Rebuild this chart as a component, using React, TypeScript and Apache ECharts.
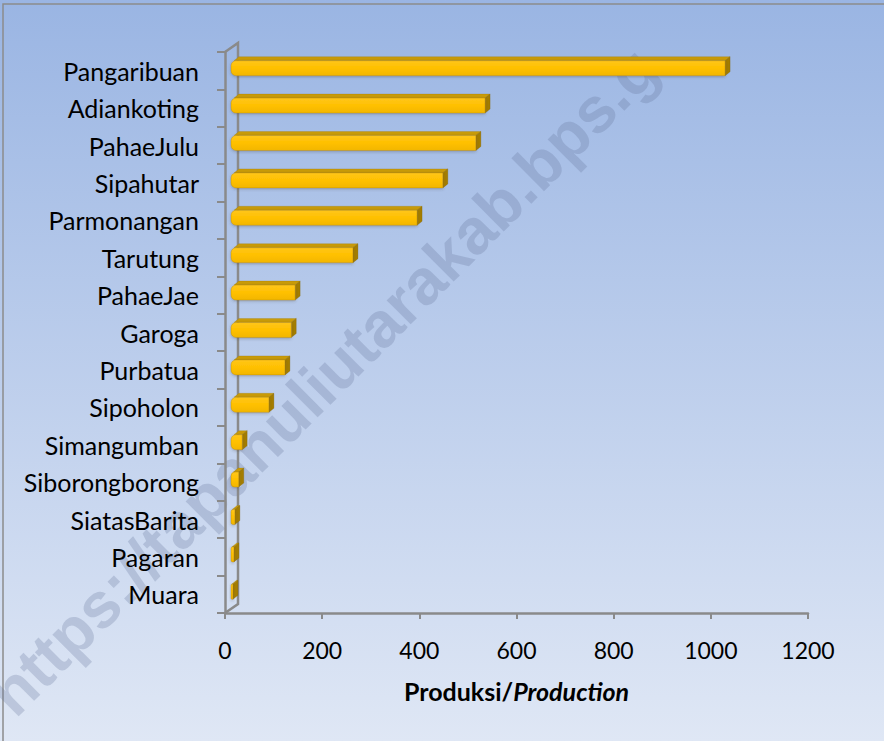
import React, { useEffect, useRef } from "react";
import * as echarts from "echarts";

const categories = [
  "Pangaribuan",
  "Adiankoting",
  "PahaeJulu",
  "Sipahutar",
  "Parmonangan",
  "Tarutung",
  "PahaeJae",
  "Garoga",
  "Purbatua",
  "Sipoholon",
  "Simangumban",
  "Siborongborong",
  "SiatasBarita",
  "Pagaran",
  "Muara",
];
const production = [1017, 523, 504, 436, 383, 251, 132, 124, 111, 78, 23, 16, 8, 6, 4];
const axisNameParts = ["Produksi/", "Production"];
const watermarkText = "https://tapanuliutarakab.bps.g";

const W = 884;
const H = 741;
const GRID_LEFT = 225;
const GRID_TOP = 52;
const GRID_W = 583;
const GRID_H = 561;
const WALL_DX = 13;
const WALL_DY = 9;
const AXIS_GRAY = "#8A8A8A";
const FONT = "Lato, 'Noto Sans', sans-serif";

export default function App() {
  const ref = useRef<HTMLDivElement>(null);

  useEffect(() => {
    if (!ref.current) return;
    const chart = echarts.init(ref.current, null, { renderer: "svg" });

    const renderBar = (params: any, api: any) => {
      const idx = api.value(1);
      const val = api.value(0);
      const p0 = api.coord([0, idx]);
      const p1 = api.coord([val, idx]);
      const x0 = p0[0] + 6;
      const x1 = p1[0] + 6;
      const yc = p0[1];
      const yt = yc - 10;
      const yb = yc + 5;
      const dx = 5;
      const dy = 4;
      const w = Math.max(x1 - x0, 1);
      const r = Math.min(5, w / 2);
      return {
        type: "group",
        children: [
          {
            type: "polygon",
            shape: {
              points: [
                [x0 + r * 0.6, yt],
                [x0 + w, yt],
                [x0 + w + dx, yt - dy],
                [x0 + r * 0.6 + dx, yt - dy],
              ],
            },
            style: { fill: "#C99B08", stroke: "rgba(150,115,0,0.5)", lineWidth: 0.5 },
          },
          {
            type: "polygon",
            shape: {
              points: [
                [x0 + w, yt],
                [x0 + w + dx, yt - dy],
                [x0 + w + dx, yb - dy],
                [x0 + w, yb],
              ],
            },
            style: { fill: "#A47D00", stroke: "rgba(120,90,0,0.5)", lineWidth: 0.5 },
          },
          {
            type: "rect",
            shape: { x: x0, y: yt, width: w, height: yb - yt, r: [r, 0, 0, r] },
            style: {
              fill: new echarts.graphic.LinearGradient(0, 0, 0, 1, [
                { offset: 0, color: "#FFC61A" },
                { offset: 0.5, color: "#FFC000" },
                { offset: 1, color: "#F2B600" },
              ]),
              stroke: "rgba(170,130,0,0.6)",
              lineWidth: 0.6,
              shadowColor: "rgba(60,60,60,0.35)",
              shadowBlur: 3,
              shadowOffsetY: 1,
            },
          },
        ],
      };
    };

    const option: any = {
      animation: false,
      backgroundColor: new echarts.graphic.LinearGradient(0, 0, 0, 1, [
        { offset: 0, color: "#9AB5E3" },
        { offset: 1, color: "#DFE7F5" },
      ]),
      grid: { left: GRID_LEFT, top: GRID_TOP, width: GRID_W, height: GRID_H, containLabel: false },
      xAxis: {
        type: "value",
        min: 0,
        max: 1200,
        interval: 200,
        splitLine: { show: false },
        axisLine: { show: true, lineStyle: { color: AXIS_GRAY, width: 2.5 } },
        axisTick: { show: true, length: 6, lineStyle: { color: AXIS_GRAY, width: 2 } },
        axisLabel: {
          color: "#000",
          fontFamily: FONT,
          fontSize: 23,
          margin: 25,
          formatter: (v: number) => String(v),
        },
        name: `{a|${axisNameParts[0]}}{b|${axisNameParts[1]}}`,
        nameLocation: "middle",
        nameGap: 65,
        nameTextStyle: {
          rich: {
            a: { fontFamily: FONT, fontSize: 25, fontWeight: "bold", color: "#000" },
            b: { fontFamily: FONT, fontSize: 25, fontWeight: "bold", fontStyle: "italic", color: "#000" },
          },
        },
      },
      yAxis: {
        type: "category",
        data: categories,
        inverse: true,
        axisLine: { show: true, lineStyle: { color: AXIS_GRAY, width: 2.5 } },
        axisTick: { show: true, length: 8, lineStyle: { color: AXIS_GRAY, width: 2 } },
        axisLabel: { color: "#000", fontFamily: FONT, fontSize: 25, margin: 26 },
        splitLine: { show: false },
      },
      graphic: [
        {
          type: "rect",
          z: -1,
          shape: { x: 3, y: 4, width: W + 20, height: H + 20 },
          style: { fill: "none", stroke: "#8C8C8C", lineWidth: 1.5 },
          silent: true,
        },
        {
          type: "text",
          z: 0,
          x: 323,
          y: 381,
          rotation: Math.PI / 4,
          silent: true,
          style: {
            text: watermarkText,
            fontFamily: "'Liberation Sans', Arial, sans-serif",
            fontWeight: "bold",
            fontSize: 64,
            fill: "rgba(96,112,150,0.26)",
            textAlign: "center",
            textVerticalAlign: "middle",
          },
        },
        {
          type: "polyline",
          z: 1,
          silent: true,
          shape: {
            points: [
              [GRID_LEFT, GRID_TOP],
              [GRID_LEFT + WALL_DX, GRID_TOP - WALL_DY],
              [GRID_LEFT + WALL_DX, GRID_TOP + GRID_H - WALL_DY],
              [GRID_LEFT, GRID_TOP + GRID_H],
            ],
          },
          style: { stroke: AXIS_GRAY, lineWidth: 2.5, fill: "none" },
        },
      ],
      series: [
        {
          type: "custom",
          renderItem: renderBar,
          encode: { x: 0, y: 1 },
          data: production.map((v, i) => [v, i]),
          z: 5,
        },
      ],
    };

    chart.setOption(option);
    return () => chart.dispose();
  }, []);

  return (
    <div
      ref={ref}
      style={{ position: "absolute", left: 0, top: 0, width: W, height: H }}
    />
  );
}
